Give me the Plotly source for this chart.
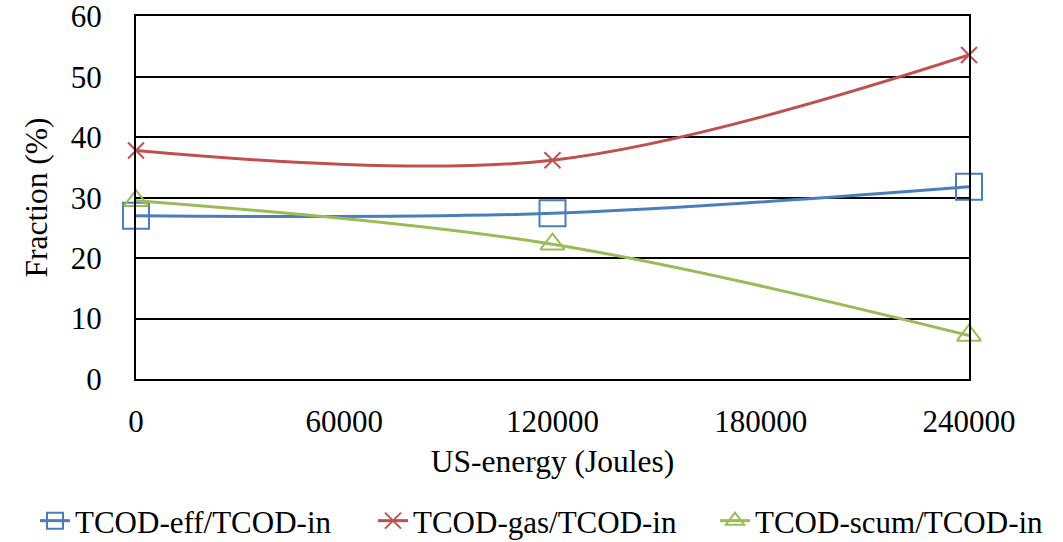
import plotly.graph_objects as go

energy = [0, 120000, 240000]
eff = [27.0, 27.4, 31.8]
gas = [37.8, 36.2, 53.6]
scum = [29.5, 22.3, 7.2]

names = ["TCOD-eff/TCOD-in", "TCOD-gas/TCOD-in", "TCOD-scum/TCOD-in"]
colors = ["#4a7ebb", "#c0504d", "#9bbb59"]
symbols = ["square-open", "x-thin-open", "triangle-up-open"]
sizes = [26, 16, 21]
legends = ["legend", "legend2", "legend3"]

font = "Liberation Serif, Times New Roman, serif"

W, H = 1063, 542

fig = go.Figure()
for y, n, c, s, sz, lg in zip([eff, gas, scum], names, colors, symbols, sizes, legends):
    fig.add_trace(go.Scatter(
        x=energy, y=y, name=n, mode="lines+markers", legend=lg, cliponaxis=False,
        line=dict(color=c, width=3, shape="spline", smoothing=1),
        marker=dict(symbol=s, size=sz, color=c, line=dict(color=c, width=2)),
    ))

leg_common = dict(orientation="h", xref="container", yref="container",
                  y=1 - 521 / H, yanchor="middle", xanchor="left",
                  font=dict(size=31, family=font), bgcolor="rgba(0,0,0,0)")

fig.update_layout(
    width=W, height=H,
    margin=dict(l=136, r=94, t=16, b=163),
    paper_bgcolor="white", plot_bgcolor="white",
    font=dict(family=font, size=31, color="black"),
    showlegend=True,
    legend=dict(x=35 / W, **leg_common),
    legend2=dict(x=373 / W, **leg_common),
    legend3=dict(x=715 / W, **leg_common),
    xaxis=dict(range=[0, 240000], tickvals=[0, 60000, 120000, 180000, 240000],
               ticktext=["0", "60000", "120000", "180000", "240000"],
               showgrid=False, zeroline=False, showline=True, linecolor="black",
               linewidth=2, mirror=True, ticks="", ticklabelstandoff=14, automargin=False,
               title=dict(text="US-energy (Joules)", standoff=12, font=dict(size=31.5))),
    yaxis=dict(range=[0, 60.05], tickvals=[0, 10, 20, 30, 40, 50, 60],
               showgrid=True, gridcolor="black", gridwidth=2, zeroline=False,
               showline=True, linecolor="black", linewidth=2, mirror=True,
               ticks="", ticklabelstandoff=26, automargin=False, ticklabeloverflow="allow",
               title=dict(text="Fraction (%)", standoff=14, font=dict(size=31.5))),
)

fig.write_html("out.html", config={"displayModeBar": False},
               post_script="document.body.style.margin='0';")
